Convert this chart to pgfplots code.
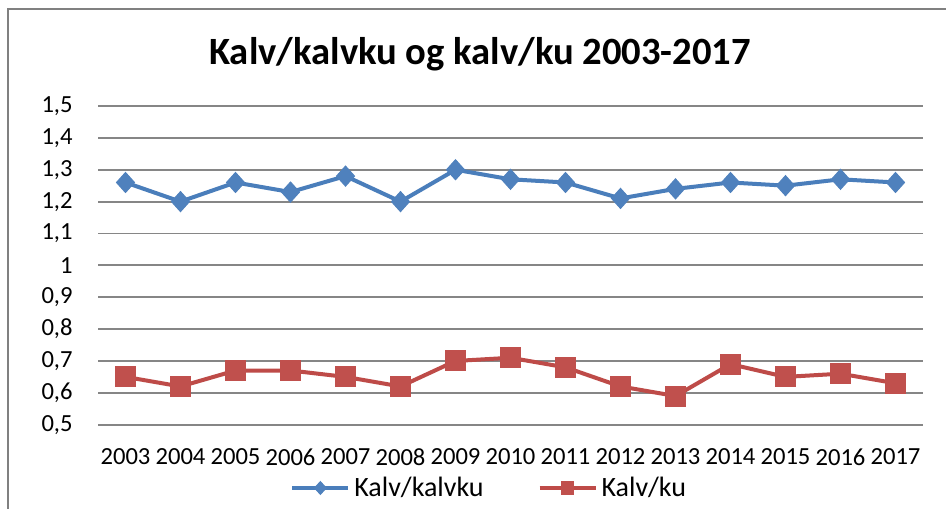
\documentclass[border=0pt]{standalone}
\usepackage{fontspec}
\setmainfont{Carlito}
\usepackage{pgfplots}
\usepackage{pgfplotstable}
\pgfplotsset{compat=1.18}
\definecolor{bl}{RGB}{74,126,187}
\definecolor{blf}{RGB}{79,129,189}
\definecolor{rd}{RGB}{190,75,72}
\definecolor{rdf}{RGB}{192,80,77}
\definecolor{gridc}{RGB}{134,134,134}
\definecolor{framec}{RGB}{128,128,128}
\pgfplotstableread{
x year kalvkalvku kalvku
0 2003 1.26 0.65
1 2004 1.20 0.62
2 2005 1.26 0.67
3 2006 1.23 0.67
4 2007 1.28 0.65
5 2008 1.20 0.62
6 2009 1.30 0.70
7 2010 1.27 0.71
8 2011 1.26 0.68
9 2012 1.21 0.62
10 2013 1.24 0.59
11 2014 1.26 0.69
12 2015 1.25 0.65
13 2016 1.27 0.66
14 2017 1.26 0.63
}\data
\begin{document}
\begin{tikzpicture}
\useasboundingbox (0,0) rectangle (473pt,254pt);
\fill[white] (0,0) rectangle (473pt,254pt);
\draw[framec, line width=1.1pt] (4pt,-2pt) -- (4pt,249.5pt) -- (480pt,249.5pt);
\node[anchor=base, font=\bfseries\fontsize{19.3}{22}\selectfont] at (240pt,221.85pt) {Kalv/kalvku og kalv/ku 2003-2017};
\begin{axis}[
  at={(49pt,41.65pt)}, anchor=south west,
  scale only axis, width=412.5pt, height=159.35pt,
  xmin=-0.5, xmax=14.5, ymin=0.5, ymax=1.5,
  xtick={0,1,2,3,4,5,6,7,8,9,10,11,12,13,14},
  xticklabels={2003,2004,2005,2006,2007,2008,2009,2010,2011,2012,2013,2014,2015,2016,2017},
  ytick={0.5,0.6,0.7,0.8,0.9,1.0,1.1,1.2,1.3,1.4,1.5},
  ymajorgrids, grid style={gridc, line width=0.9pt},
  axis line style={draw=none}, major tick length=0pt,
  /pgf/number format/assume math mode=true,
  yticklabel={\pgfmathprintnumber[fixed,precision=1,use comma]{\tick}},
  ticklabel style={font=\fontsize{12.3}{14}\selectfont, text=black},
  yticklabel style={anchor=east, inner sep=0pt, xshift=-12.5pt},
  xticklabel style={anchor=north, inner sep=0pt, yshift=-11.8pt},
  legend style={at={(0.2327,-0.1986)}, anchor=west, draw=none, fill=none, inner sep=0pt,
    font=\fontsize{14}{16}\selectfont, text=black, legend columns=2,
    /tikz/every even column/.append style={column sep=25pt}},
  legend cell align=left,
  legend image code/.code={\draw[mark repeat=2,mark phase=2,mark size=3.2pt] plot coordinates {(0pt,0pt)(14pt,0pt)(28pt,0pt)};},
  clip=false,
]
\addplot[bl, line width=2pt, mark=diamond*, mark size=5pt, mark options={fill=blf, draw=blf, line width=0.5pt, xscale=1.2}] table[x=x, y=kalvkalvku] {\data};
\addlegendentry{Kalv/kalvku}
\addplot[rd, line width=2pt, mark=square*, mark size=5pt, mark options={fill=rdf, draw=rdf, line width=0.5pt}] table[x=x, y=kalvku] {\data};
\addlegendentry{Kalv/ku}
\end{axis}
\end{tikzpicture}
\end{document}
